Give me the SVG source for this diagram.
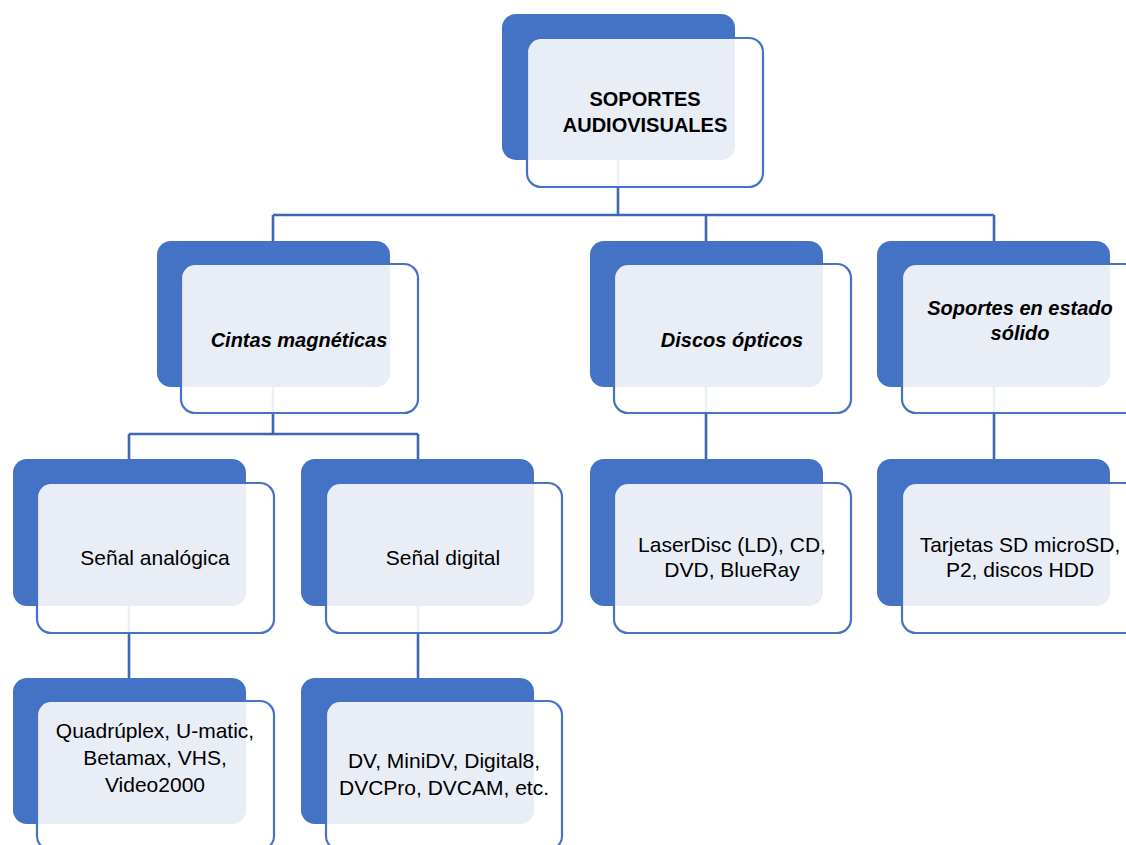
<svg xmlns="http://www.w3.org/2000/svg" width="1126" height="845" viewBox="0 0 1126 845">
<style>
.back{fill:#4472C4}
.fw{fill:#FFFFFF;fill-opacity:0.9}
.lt{fill:#E9EDF6}
.fs{fill:none;stroke:#4472C4;stroke-width:2.2}
.con{stroke:#3F66B0;stroke-width:2.6;fill:none}
text{font-family:"Liberation Sans",Arial,sans-serif;fill:#000;text-anchor:middle}
.r{font-size:21px}
.b{font-size:20px;font-weight:bold}
.bi{font-size:20px;font-weight:bold;font-style:italic}
</style>
<defs>
<clipPath id="c0"><rect x="502" y="14" width="233" height="146" rx="14"/></clipPath>
<clipPath id="c1"><rect x="157" y="241" width="233" height="146" rx="14"/></clipPath>
<clipPath id="c2"><rect x="590" y="241" width="233" height="146" rx="14"/></clipPath>
<clipPath id="c3"><rect x="877" y="241" width="233" height="146" rx="14"/></clipPath>
<clipPath id="c4"><rect x="13" y="459" width="233" height="147" rx="14"/></clipPath>
<clipPath id="c5"><rect x="301" y="459" width="233" height="147" rx="14"/></clipPath>
<clipPath id="c6"><rect x="590" y="459" width="233" height="147" rx="14"/></clipPath>
<clipPath id="c7"><rect x="877" y="459" width="233" height="147" rx="14"/></clipPath>
<clipPath id="c8"><rect x="13" y="678" width="233" height="146" rx="14"/></clipPath>
<clipPath id="c9"><rect x="301" y="678" width="233" height="146" rx="14"/></clipPath>
</defs>
<rect width="1126" height="845" fill="#FFFFFF"/>
<g id="connectors">
<path class="con" d="M618 160V215M273 215H994M273 215V241M706 215V241M994 215V241"/>
<path class="con" d="M273 387V434M129 434H418M129 434V459M418 434V459"/>
<path class="con" d="M706 387V459M994 387V459"/>
<path class="con" d="M129 606V678M418 606V678"/>
</g>
<g id="n-soportes">
<rect class="back" x="502" y="14" width="233" height="146" rx="14"/>
<rect class="fw" x="527" y="38" width="236" height="149" rx="14"/>
<rect class="lt" x="527" y="38" width="236" height="149" rx="14" clip-path="url(#c0)"/>
<rect class="fs" x="527" y="38" width="236" height="149" rx="14"/>
<text class="b" x="645" y="106">SOPORTES</text>
<text class="b" x="645" y="132">AUDIOVISUALES</text>
</g>
<g id="n-cintas">
<rect class="back" x="157" y="241" width="233" height="146" rx="14"/>
<rect class="fw" x="181" y="264" width="237" height="149" rx="14"/>
<rect class="lt" x="181" y="264" width="237" height="149" rx="14" clip-path="url(#c1)"/>
<rect class="fs" x="181" y="264" width="237" height="149" rx="14"/>
<text class="bi" x="299" y="347">Cintas magnéticas</text>
</g>
<g id="n-discos">
<rect class="back" x="590" y="241" width="233" height="146" rx="14"/>
<rect class="fw" x="614" y="264" width="237" height="149" rx="14"/>
<rect class="lt" x="614" y="264" width="237" height="149" rx="14" clip-path="url(#c2)"/>
<rect class="fs" x="614" y="264" width="237" height="149" rx="14"/>
<text class="bi" x="732" y="347">Discos ópticos</text>
</g>
<g id="n-solido">
<rect class="back" x="877" y="241" width="233" height="146" rx="14"/>
<rect class="fw" x="902" y="264" width="237" height="149" rx="14"/>
<rect class="lt" x="902" y="264" width="237" height="149" rx="14" clip-path="url(#c3)"/>
<rect class="fs" x="902" y="264" width="237" height="149" rx="14"/>
<text class="bi" x="1020" y="315">Soportes en estado</text>
<text class="bi" x="1020" y="340">sólido</text>
</g>
<g id="n-analogica">
<rect class="back" x="13" y="459" width="233" height="147" rx="14"/>
<rect class="fw" x="37" y="483" width="237" height="150" rx="14"/>
<rect class="lt" x="37" y="483" width="237" height="150" rx="14" clip-path="url(#c4)"/>
<rect class="fs" x="37" y="483" width="237" height="150" rx="14"/>
<text class="r" x="155" y="565">Señal analógica</text>
</g>
<g id="n-digital">
<rect class="back" x="301" y="459" width="233" height="147" rx="14"/>
<rect class="fw" x="326" y="483" width="236" height="150" rx="14"/>
<rect class="lt" x="326" y="483" width="236" height="150" rx="14" clip-path="url(#c5)"/>
<rect class="fs" x="326" y="483" width="236" height="150" rx="14"/>
<text class="r" x="443" y="565">Señal digital</text>
</g>
<g id="n-laserdisc">
<rect class="back" x="590" y="459" width="233" height="147" rx="14"/>
<rect class="fw" x="614" y="483" width="237" height="150" rx="14"/>
<rect class="lt" x="614" y="483" width="237" height="150" rx="14" clip-path="url(#c6)"/>
<rect class="fs" x="614" y="483" width="237" height="150" rx="14"/>
<text class="r" x="732" y="552">LaserDisc (LD), CD,</text>
<text class="r" x="732" y="577">DVD, BlueRay</text>
</g>
<g id="n-tarjetas">
<rect class="back" x="877" y="459" width="233" height="147" rx="14"/>
<rect class="fw" x="902" y="483" width="237" height="150" rx="14"/>
<rect class="lt" x="902" y="483" width="237" height="150" rx="14" clip-path="url(#c7)"/>
<rect class="fs" x="902" y="483" width="237" height="150" rx="14"/>
<text class="r" x="1020" y="552">Tarjetas SD microSD,</text>
<text class="r" x="1020" y="577">P2, discos HDD</text>
</g>
<g id="n-quadruplex">
<rect class="back" x="13" y="678" width="233" height="146" rx="14"/>
<rect class="fw" x="37" y="701" width="237" height="149" rx="14"/>
<rect class="lt" x="37" y="701" width="237" height="149" rx="14" clip-path="url(#c8)"/>
<rect class="fs" x="37" y="701" width="237" height="149" rx="14"/>
<text class="r" x="155" y="738">Quadrúplex, U-matic,</text>
<text class="r" x="155" y="765">Betamax, VHS,</text>
<text class="r" x="155" y="792">Video2000</text>
</g>
<g id="n-dv">
<rect class="back" x="301" y="678" width="233" height="146" rx="14"/>
<rect class="fw" x="326" y="701" width="236" height="149" rx="14"/>
<rect class="lt" x="326" y="701" width="236" height="149" rx="14" clip-path="url(#c9)"/>
<rect class="fs" x="326" y="701" width="236" height="149" rx="14"/>
<text class="r" x="444" y="768">DV, MiniDV, Digital8,</text>
<text class="r" x="444" y="795">DVCPro, DVCAM, etc.</text>
</g>
</svg>
